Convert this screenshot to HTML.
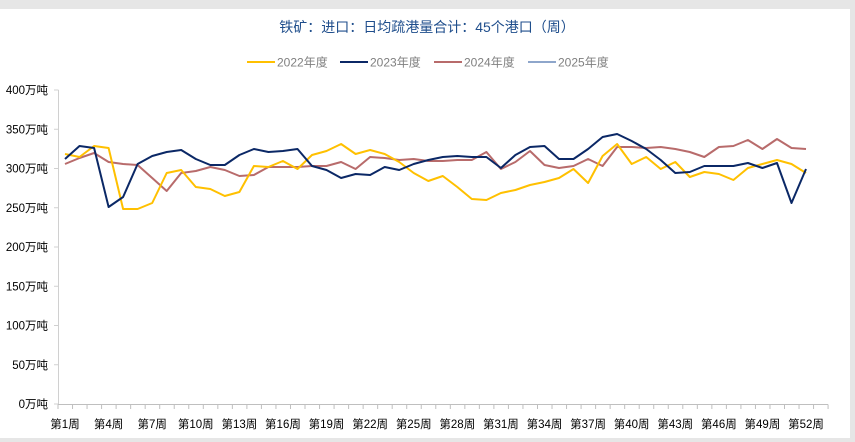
<!DOCTYPE html>
<html><head><meta charset="utf-8"><style>
html,body{margin:0;padding:0;background:#e6e6e6;}
#c{position:absolute;left:0;top:9px;width:850px;height:429px;background:#fff;}
svg{position:absolute;left:0;top:0;}
text{font-family:"Liberation Sans","Noto Sans CJK SC",sans-serif;}
</style></head><body>
<div id="c"></div>
<svg width="855" height="442" viewBox="0 0 855 442" id="s"></svg>
<script>
const s=document.getElementById('s');
const y22=[154,157,146,148,209,209,203,173,170,187,189,196,192,166,167,161,169,155,151,144,154,150,154,162,173,181,176,187,199,200,193,190,185,182,178,169,183,156,144,164,157,169,162,177,172,174,180,168,164,160,164,173];
const y23=[159,146,148,207,197,164,156,152,150,159,165,165,155,149,152,151,149,166,170,178,174,175,167,170,164,160,157,156,157,157,168,155,147,146,159,159,149,137,134,141,149,160,173,172,166,166,166,163,168,163,203,169];
const y24=[164,158,153,162,164,165,178,191,173,171,167,170,176,175,167,167,167,166,166,162,169,157,158,160,159,161,161,160,160,152,169,162,151,165,168,166,159,166,147,147,148,147,149,152,157,147,146,140,149,139,148,149];
const X=i=>65+i*14.53;
let h='';
h+='<text x="427" y="32" text-anchor="middle" font-size="14" fill="#1f4e8c">铁矿：进口：日均疏港量合计：45个港口（周）</text>';
const leg=[['#ffc000',247,'2022年度'],['#0b2866',340,'2023年度'],['#b86b6b',434,'2024年度'],['#8ea6cb',528,'2025年度']];
for(const [c,x,t] of leg){h+=`<line x1="${x}" y1="62" x2="${x+28}" y2="62" stroke="${c}" stroke-width="2"/><text x="${x+30}" y="66.5" font-size="12" fill="#808080">${t}</text>`;}
h+='<line x1="58.5" y1="90" x2="58.5" y2="404" stroke="#d0d0d0"/>';
for(let k=0;k<=8;k++){const y=404-k*39.25;h+=`<line x1="54" y1="${y}" x2="58.5" y2="${y}" stroke="#d0d0d0"/><text x="48" y="${y+4}" text-anchor="end" font-size="11.5" fill="#000">${k*50}万吨</text>`;}
h+='<line x1="58" y1="404.5" x2="828" y2="404.5" stroke="#bfbfbf"/>';
for(let i=0;i<=53;i++){const x=58+i*14.53;if(x<=829)h+=`<line x1="${x}" y1="404.5" x2="${x}" y2="409" stroke="#bfbfbf"/>`;}
for(let i=0;i<52;i+=3){h+=`<text x="${X(i)}" y="428" text-anchor="middle" font-size="11.5" fill="#000">第${i+1}周</text>`;}
for(const [d,c] of [[y24,'#b86b6b'],[y22,'#ffc000'],[y23,'#0b2866']]){h+=`<polyline fill="none" stroke="${c}" stroke-width="2" stroke-linejoin="round" points="${d.map((v,i)=>X(i).toFixed(1)+','+v).join(' ')}"/>`;}
s.innerHTML=h;
</script>
</body></html>
